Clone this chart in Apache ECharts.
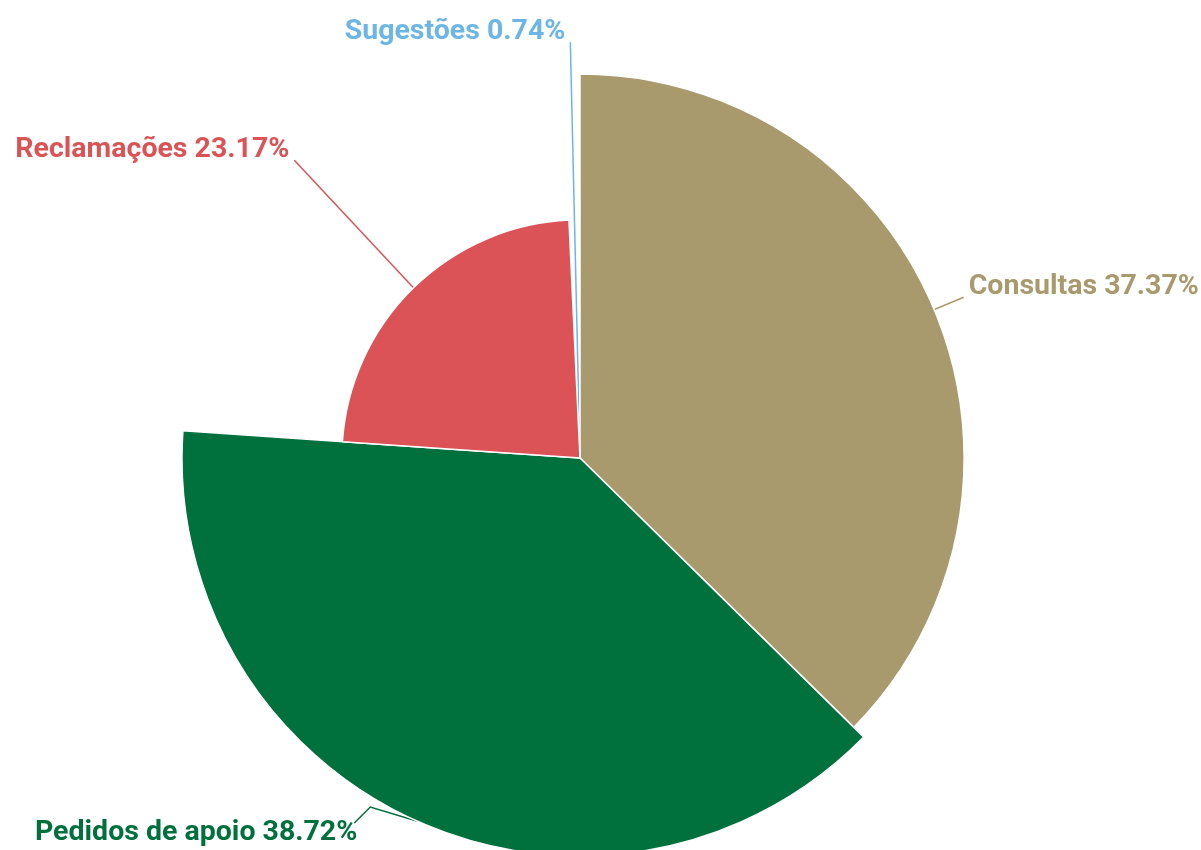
<!DOCTYPE html>
<html>
<head>
<meta charset="utf-8">
<script src="https://cdn.jsdelivr.net/npm/echarts@6/dist/echarts.min.js"></script>
<style>
  html, body { margin: 0; padding: 0; background: #ffffff; }
  #chart { width: 1201px; height: 850px; }
</style>
</head>
<body>
<div id="chart"></div>
<script>
// Share of contacts by type (%)
const categories = ['Consultas', 'Pedidos de apoio', 'Reclamações', 'Sugestões'];
const shares = [37.37, 38.72, 23.17, 0.74];
const colors = ['#a99a6e', '#00703c', '#db5356', '#6cb6e6'];

const chart = echarts.init(document.getElementById('chart'));

// Lift each label so its leader line meets the text near the baseline;
// the bottom label has no room below, so it slides left along the rim
// and its leader line bends back to the text.
function placeLabel(params) {
  const r = params.labelRect;
  const pts = params.labelLinePoints;
  if (params.dataIndex === 1 && pts) {
    const dx = -47, dy = -2;
    const right = r.x + r.width + dx;
    const top = r.y + dy;
    return {
      dx: dx,
      dy: dy,
      labelLinePoints: [pts[0], [right + 13, top - 11], [right - 3, top + 5]]
    };
  }
  return { dy: -10 };
}

chart.setOption({
  animation: false,
  series: [{
    type: 'pie',
    roseType: 'radius',
    left: 0,
    top: 0,
    right: -40,
    bottom: 0,
    center: [580, 458],
    radius: [0, 398],
    startAngle: 90,
    clockwise: true,
    avoidLabelOverlap: true,
    itemStyle: { borderColor: '#ffffff', borderWidth: 1.5 },
    label: {
      show: true,
      formatter: '{b} {d}%',
      fontFamily: 'Roboto',
      fontSize: 28.5,
      fontWeight: 'bold'
    },
    labelLine: { show: true, length: 18, length2: 0, lineStyle: { width: 1.5 } },
    labelLayout: placeLabel,
    data: categories.map((name, i) => ({
      name: name,
      value: shares[i],
      itemStyle: { color: colors[i] },
      label: { color: colors[i] },
      labelLine: { lineStyle: { color: colors[i] } }
    }))
  }]
});
</script>
</body>
</html>
